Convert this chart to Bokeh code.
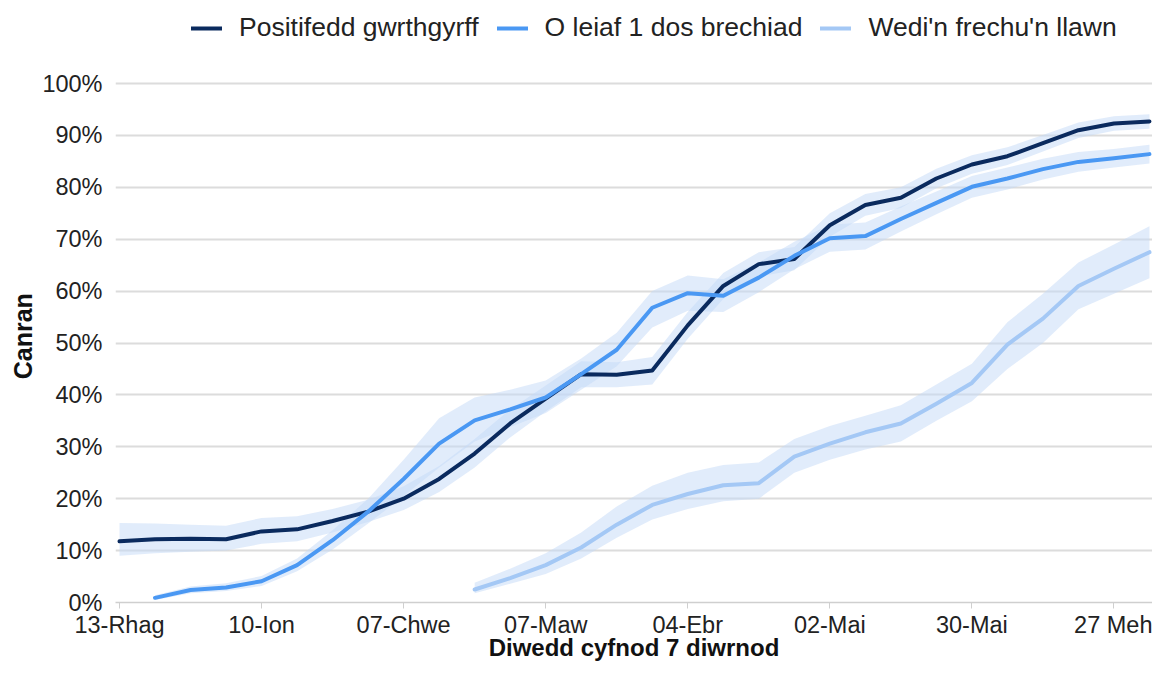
import pandas as pd
from bokeh.plotting import figure
from bokeh.models import (FixedTicker, PrintfTickFormatter, Legend, LegendItem,
                          Range1d)
from bokeh.embed import file_html
from bokeh.resources import INLINE

# ---------------- data ----------------
dates = ["2020-12-13", "2020-12-20", "2020-12-27", "2021-01-03", "2021-01-10",
         "2021-01-17", "2021-01-24", "2021-01-31", "2021-02-07", "2021-02-14",
         "2021-02-21", "2021-02-28", "2021-03-07", "2021-03-14", "2021-03-21",
         "2021-03-28", "2021-04-04", "2021-04-11", "2021-04-18", "2021-04-25",
         "2021-05-02", "2021-05-09", "2021-05-16", "2021-05-23", "2021-05-30",
         "2021-06-06", "2021-06-13", "2021-06-20", "2021-06-27", "2021-07-04"]

antibody = [11.8, 12.2, 12.3, 12.2, 13.7, 14.1, 15.7, 17.5, 20.0, 23.8,
            28.7, 34.5, 39.3, 44.0, 43.9, 44.7, 53.4, 61.0, 65.2, 66.2,
            72.7, 76.6, 78.0, 81.7, 84.4, 86.0, 88.5, 91.0, 92.3, 92.7]
antibody_lo = [9.0, 9.5, 9.8, 10.0, 11.3, 11.8, 13.5, 15.5, 17.8, 21.3,
               26.0, 31.8, 36.8, 41.5, 41.5, 42.0, 50.8, 58.5, 62.8, 64.0,
               70.5, 74.5, 76.0, 79.8, 82.6, 84.3, 86.9, 89.5, 90.9, 91.3]
antibody_hi = [15.3, 15.2, 15.0, 14.8, 16.3, 16.6, 18.0, 19.8, 22.4, 26.3,
               31.5, 37.2, 41.8, 46.5, 46.3, 47.3, 56.0, 63.5, 67.5, 68.5,
               75.0, 78.7, 80.0, 83.6, 86.2, 87.7, 90.1, 92.5, 93.7, 94.1]

dose1 = [None, 0.9, 2.4, 2.9, 4.1, 7.2, 12.0, 17.5, 23.8, 30.6,
         35.1, 37.2, 39.5, 44.0, 48.7, 56.8, 59.6, 59.1, 62.6, 66.8,
         70.2, 70.6, 73.9, 77.0, 80.1, 81.7, 83.5, 84.9, 85.6, 86.4]
dose1_lo = [None, 0.5, 1.8, 2.2, 3.2, 6.0, 10.2, 15.2, 20.5, 26.0,
            31.0, 33.8, 36.5, 41.0, 45.5, 53.0, 56.2, 56.0, 59.8, 64.2,
            67.6, 68.0, 71.5, 74.8, 78.0, 79.6, 81.5, 83.0, 83.8, 84.6]
dose1_hi = [None, 1.4, 3.1, 3.7, 5.1, 8.5, 13.9, 20.0, 27.5, 35.5,
            39.5, 41.0, 42.8, 47.0, 52.0, 60.0, 63.0, 62.3, 65.5, 69.5,
            72.8, 73.2, 76.3, 79.2, 82.2, 83.8, 85.5, 86.8, 87.4, 88.2]

full = [None] * 10 + [2.5, 4.7, 7.2, 10.6, 15.0, 18.8, 20.9, 22.6, 23.0, 28.1,
                      30.6, 32.8, 34.5, 38.3, 42.3, 49.7, 54.7, 61.0, 64.3, 67.5]
full_lo = [None] * 10 + [1.8, 3.6, 5.5, 8.5, 12.5, 16.0, 18.0, 19.5, 20.0, 25.0,
                         27.5, 29.5, 31.0, 35.0, 38.8, 45.0, 50.0, 56.5, 59.5, 62.5]
full_hi = [None] * 10 + [3.8, 6.5, 9.5, 13.5, 18.5, 22.5, 25.0, 26.5, 27.0, 31.5,
                         34.0, 36.0, 38.0, 42.0, 46.0, 54.0, 59.5, 65.5, 69.0, 72.5]

series_names = ["Positifedd gwrthgyrff", "O leiaf 1 dos brechiad",
                "Wedi'n frechu'n llawn"]
series_colors = ["#0a2a5e", "#4a98f3", "#a4c8f5"]

tick_dates = ["2020-12-13", "2021-01-10", "2021-02-07", "2021-03-07",
              "2021-04-04", "2021-05-02", "2021-05-30", "2021-06-27"]
tick_labels = ["13-Rhag", "10-Ion", "07-Chwe", "07-Maw", "04-Ebr", "02-Mai",
               "30-Mai", "27 Meh"]

y_ticks = [0, 10, 20, 30, 40, 50, 60, 70, 80, 90, 100]

x_title = "Diwedd cyfnod 7 diwrnod"
y_title = "Canran"

# ---------------- figure ----------------
FONT = "Liberation Sans"
TXT = "#222222"
x_all = pd.to_datetime(dates)
t0 = x_all[0]

p = figure(width=1152, height=663, x_axis_type="datetime",
           output_backend="svg", toolbar_location=None,
           min_border=0, min_border_left=115)
p.x_range = Range1d(t0 - pd.Timedelta(hours=19), t0 + pd.Timedelta(days=203.6))
p.y_range = Range1d(0, 116.0)
p.outline_line_color = None
p.background_fill_color = "white"
p.border_fill_color = "white"

band_color = "#c4d9f7"
band_alpha = 0.5

for vals, lo, hi in [(antibody, antibody_lo, antibody_hi),
                     (dose1, dose1_lo, dose1_hi),
                     (full, full_lo, full_hi)]:
    idx = [i for i, v in enumerate(vals) if v is not None]
    xs = [x_all[i] for i in idx]
    p.varea(x=xs, y1=[lo[i] for i in idx], y2=[hi[i] for i in idx],
            fill_color=band_color, fill_alpha=band_alpha)

line_renderers = []
for vals, col in [(antibody, series_colors[0]), (dose1, series_colors[1]),
                  (full, series_colors[2])]:
    idx = [i for i, v in enumerate(vals) if v is not None]
    xs = [x_all[i] for i in idx]
    r = p.line(x=xs, y=[vals[i] for i in idx], line_color=col, line_width=4,
               line_join="round", line_cap="round")
    line_renderers.append(r)

# axes
tick_ms = [float(pd.Timestamp(d).value // 10**6) for d in tick_dates]
xa = p.xaxis[0]
xa.ticker = FixedTicker(ticks=tick_ms)
xa.major_label_overrides = {t: l for t, l in zip(tick_ms, tick_labels)}
xa.major_label_text_font = FONT
xa.major_label_text_font_size = "23.5px"
xa.major_label_text_color = TXT
xa.major_label_standoff = 3
xa.axis_line_color = "#cfcfcf"
xa.axis_line_width = 1.5
xa.major_tick_out = 6
xa.major_tick_in = 0
xa.major_tick_line_color = "#cfcfcf"
xa.minor_tick_out = 0
xa.minor_tick_in = 0
xa.axis_label = x_title
xa.axis_label_text_font = FONT
xa.axis_label_text_font_style = "bold"
xa.axis_label_text_font_size = "24px"
xa.axis_label_text_color = "#111111"
xa.axis_label_standoff = -7

ya = p.yaxis[0]
ya.ticker = FixedTicker(ticks=y_ticks)
ya.formatter = PrintfTickFormatter(format="%d%%")
ya.major_label_text_font = FONT
ya.major_label_text_font_size = "23.5px"
ya.major_label_text_color = TXT
ya.major_label_standoff = 13
ya.axis_line_color = None
ya.major_tick_out = 0
ya.major_tick_in = 0
ya.minor_tick_out = 0
ya.minor_tick_in = 0
# trailing no-break spaces move the centred title down to the data area's middle
ya.axis_label = y_title + "\u00a0" * 10
ya.axis_label_text_font = FONT
ya.axis_label_text_font_style = "bold"
ya.axis_label_text_font_size = "25px"
ya.axis_label_text_color = "#111111"
ya.axis_label_standoff = 2

p.xgrid.grid_line_color = None
p.ygrid.grid_line_color = "#dcdcdc"
p.ygrid.grid_line_width = 2

legend = Legend(items=[LegendItem(label=n, renderers=[r])
                       for n, r in zip(series_names, line_renderers)],
                orientation="horizontal", location=(76, 559),
                label_text_font=FONT, label_text_font_size="26.5px",
                label_text_color=TXT, glyph_width=31, glyph_height=20,
                label_standoff=17, spacing=18, padding=0, margin=0,
                border_line_alpha=0, background_fill_alpha=0)
p.add_layout(legend)

open("out.html", "w").write(file_html(p, INLINE))
